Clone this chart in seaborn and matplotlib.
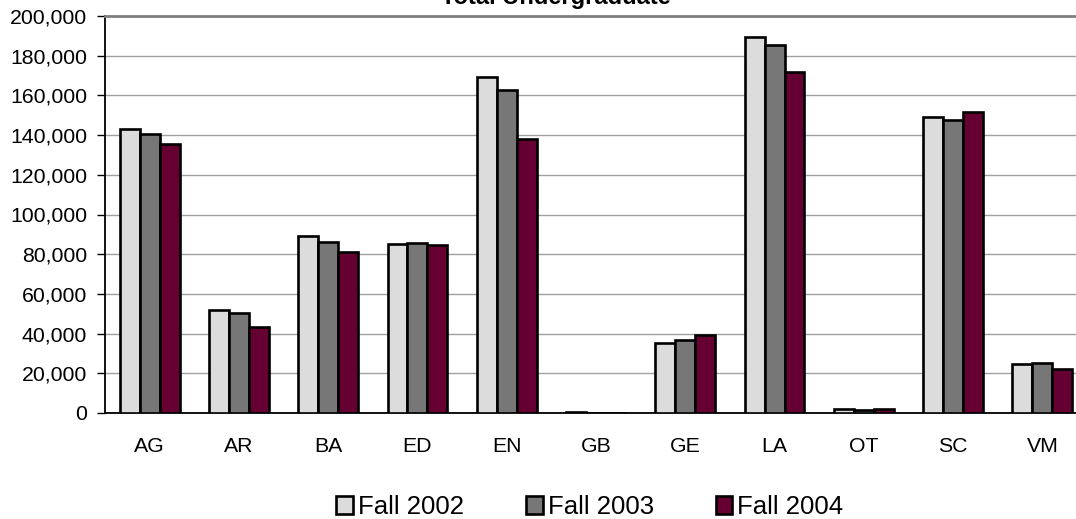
import matplotlib
matplotlib.use("Agg")
import matplotlib.pyplot as plt
import matplotlib.ticker as mticker
import seaborn as sns
import pandas as pd

categories = ["AG", "AR", "BA", "ED", "EN", "GB", "GE", "LA", "OT", "SC", "VM"]
series_names = ["Fall 2002", "Fall 2003", "Fall 2004"]
fall_2002 = [143100, 51900, 89200, 85000, 169400, 600, 35100, 189400, 2000, 149000, 24700]
fall_2003 = [140500, 50500, 86300, 85500, 162600, 0, 36800, 185400, 1500, 147600, 25200]
fall_2004 = [135500, 43500, 81100, 84500, 138000, 0, 39300, 171800, 1800, 151600, 22200]
colors = ["#DCDCDC", "#777777", "#660033"]
title = "Total Undergraduate"

rows = []
for name, vals in zip(series_names, [fall_2002, fall_2003, fall_2004]):
    for c, v in zip(categories, vals):
        rows.append({"cat": c, "val": v, "series": name})
df = pd.DataFrame(rows)

sns.set_theme(style="white")
plt.rcParams["font.family"] = ["Liberation Sans", "DejaVu Sans"]
plt.rcParams["text.color"] = "black"
plt.rcParams["xtick.color"] = "black"
plt.rcParams["ytick.color"] = "black"

fig = plt.figure(figsize=(10.76, 5.19), dpi=100)
W, H = 1076, 519
ax = fig.add_axes([105 / W, (H - 413) / H, (1087 - 105) / W, 397 / H])

sns.barplot(data=df, x="cat", y="val", hue="series", order=categories,
            hue_order=series_names, palette=colors, saturation=1, width=0.67,
            edgecolor="black", linewidth=1.9, ax=ax, legend=True, zorder=3)

ax.set_ylim(0, 200000)
ax.set_xlim(-0.5, len(categories) - 0.5)
ax.set_yticks(range(0, 200001, 20000))
ax.yaxis.set_major_formatter(mticker.FuncFormatter(lambda v, p: f"{int(v):,}"))
ax.grid(axis="y", color="#A0A0A0", linewidth=1.0, zorder=0)
ax.set_axisbelow(True)
ax.set_xlabel("")
ax.set_ylabel("")

# category boundary ticks
ax.set_xticks([i - 0.5 for i in range(len(categories) + 1)], minor=True)
ax.tick_params(axis="x", which="minor", length=6, width=1.0, color="black", direction="out")
ax.tick_params(axis="x", which="major", length=0, pad=17, labelsize=15.3, labelcolor="black")
ax.tick_params(axis="y", which="major", length=6, width=1.0, color="black", direction="out",
               pad=7, labelsize=15.3, labelcolor="black")
ax.tick_params(bottom=True, left=True)

for s in ["left", "bottom"]:
    ax.spines[s].set_color("black")
    ax.spines[s].set_linewidth(1.3)
ax.spines["top"].set_color("#808080")
ax.spines["top"].set_linewidth(2.0)
ax.spines["right"].set_visible(False)

handles, labels = ax.get_legend_handles_labels()
ax.get_legend().remove()
leg = fig.legend(handles, labels, loc="center", bbox_to_anchor=(590 / W, 1 - 507 / H),
                 ncol=3, frameon=False, fontsize=18.5, handlelength=0.65,
                 handleheight=0.65, handletextpad=0.2, columnspacing=2.4,
                 labelcolor="black")
for h in leg.legend_handles:
    h.set_edgecolor("black")
    h.set_linewidth(1.9)

fig.text(556 / W, 1 - 4 / H, title, ha="center", va="baseline", fontsize=17,
         fontweight="bold", color="black")

fig.savefig("out.png", dpi=100, facecolor="white")
